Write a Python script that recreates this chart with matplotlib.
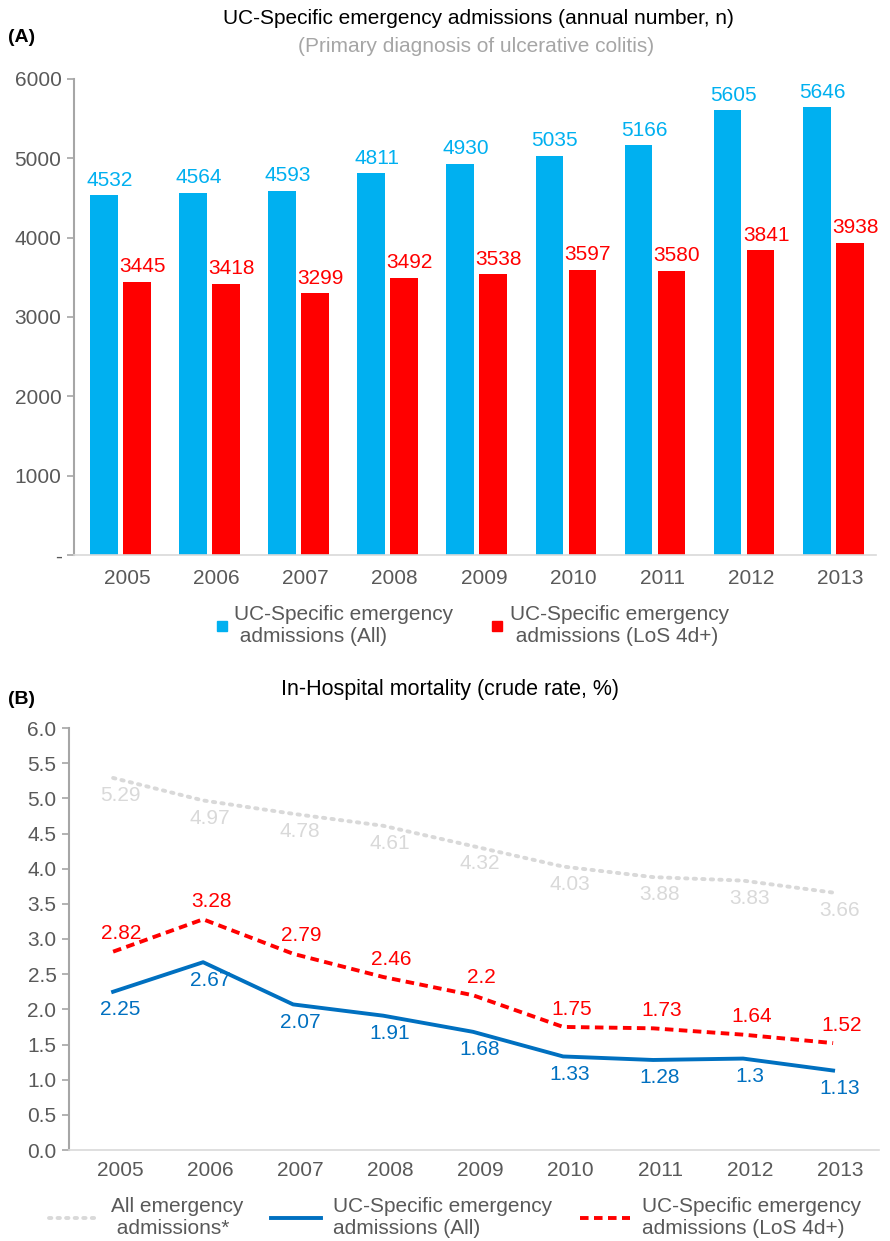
import matplotlib
matplotlib.use("Agg")
import matplotlib.pyplot as plt
from matplotlib.lines import Line2D
import numpy as np

REG = 'Liberation Sans'
plt.rcParams['font.family'] = [REG, 'DejaVu Sans']

# ---------------- data ----------------
years = ['2005', '2006', '2007', '2008', '2009', '2010', '2011', '2012', '2013']
adm_all = [4532, 4564, 4593, 4811, 4930, 5035, 5166, 5605, 5646]
adm_los = [3445, 3418, 3299, 3492, 3538, 3597, 3580, 3841, 3938]

mort_all_emerg = [5.29, 4.97, 4.78, 4.61, 4.32, 4.03, 3.88, 3.83, 3.66]
mort_uc_all = [2.25, 2.67, 2.07, 1.91, 1.68, 1.33, 1.28, 1.3, 1.13]
mort_uc_los = [2.82, 3.28, 2.79, 2.46, 2.2, 1.75, 1.73, 1.64, 1.52]

yticks_a = [0, 1000, 2000, 3000, 4000, 5000, 6000]
yticklabels_a = ['-', '1000', '2000', '3000', '4000', '5000', '6000']
yticks_b = [0.0, 0.5, 1.0, 1.5, 2.0, 2.5, 3.0, 3.5, 4.0, 4.5, 5.0, 5.5, 6.0]

C_BLUE_BAR = '#00B0F0'
C_RED = '#FF0000'
C_BLUE_LINE = '#0070C0'
C_GRAY = '#D9D9D9'
C_TICK = '#595959'
C_SPINE = '#A6A6A6'

FS_TICK = 15
FS_LAB = 15
FS_TITLE = 15
FS_LEG = 15

fig = plt.figure(figsize=(8.9, 12.41), dpi=100)

# ---------------- panel A ----------------
axA = fig.add_axes([74/890, 1-555/1241, 802/890, 476/1241])
x = np.arange(len(years))
w = 0.31
off = 0.185
axA.bar(x - off, adm_all, w, color=C_BLUE_BAR)
axA.bar(x + off, adm_los, w, color=C_RED)
for xi, v in zip(x - off, adm_all):
    axA.annotate(str(v), (xi, v), xytext=(4, 4), textcoords='offset points',
                 ha='center', va='bottom', fontsize=FS_LAB, color=C_BLUE_BAR)
for xi, v in zip(x + off, adm_los):
    axA.annotate(str(v), (xi, v), xytext=(4, 4), textcoords='offset points',
                 ha='center', va='bottom', fontsize=FS_LAB, color=C_RED)
axA.set_xlim(-0.52, 8.48)
axA.set_ylim(0, 6000)
axA.set_yticks(yticks_a)
axA.set_yticklabels(yticklabels_a)
axA.set_xticks(x + 0.08)
axA.set_xticklabels(years)
for s in ['top', 'right']:
    axA.spines[s].set_visible(False)
axA.spines['left'].set_color(C_SPINE)
axA.spines['left'].set_linewidth(1.5)
axA.spines['bottom'].set_color(C_GRAY)
axA.spines['bottom'].set_linewidth(1.2)
axA.tick_params(axis='y', length=5, color=C_SPINE, width=1.2, labelcolor=C_TICK,
                labelsize=FS_TICK, pad=4)
axA.tick_params(axis='x', length=0, labelcolor=C_TICK, labelsize=FS_TICK, pad=10)

fig.text(478/890, 1-19/1241, 'UC-Specific emergency admissions (annual number, n)',
         ha='center', va='center', fontsize=FS_TITLE, color='black')
fig.text(476/890, 1-47/1241, '(Primary diagnosis of ulcerative colitis)',
         ha='center', va='center', fontsize=FS_TITLE, color='#A6A6A6')
fig.text(8/890, 1-37/1241, '(A)', ha='left', va='center', fontsize=14,
         fontweight='bold')

hA = [Line2D([], [], ls='none', marker='s', markersize=7, color=C_BLUE_BAR),
      Line2D([], [], ls='none', marker='s', markersize=7, color=C_RED)]
legA = fig.legend(hA, ['UC-Specific emergency\n admissions (All)',
                       'UC-Specific emergency\n admissions (LoS 4d+)'],
                  loc='center', bbox_to_anchor=(472/890, 1-626/1241), ncol=2,
                  frameon=False, handlelength=0.6, handletextpad=0.3,
                  columnspacing=1.8, labelspacing=0.2,
                  prop={'size': FS_LEG})
for t in legA.get_texts():
    t.set_color(C_TICK)

# ---------------- panel B ----------------
axB = fig.add_axes([69/890, 1-1150/1241, 810/890, 422/1241])
xb = np.arange(len(years))
axB.plot(xb, mort_all_emerg, color=C_GRAY, lw=2.8, ls=(0, (0.6, 1.6)),
         dash_capstyle='round')
axB.plot(xb, mort_uc_all, color=C_BLUE_LINE, lw=2.8)
axB.plot(xb, mort_uc_los, color=C_RED, lw=2.8, ls=(0, (2.2, 1.4)))
for xi, v in zip(xb, mort_all_emerg):
    axB.annotate(f'{v:g}', (xi, v), xytext=(5, -6), textcoords='offset points',
                 ha='center', va='top', fontsize=FS_LAB, color=C_GRAY)
for xi, v in zip(xb, mort_uc_all):
    axB.annotate(f'{v:g}', (xi, v), xytext=(5, -6), textcoords='offset points',
                 ha='center', va='top', fontsize=FS_LAB, color=C_BLUE_LINE)
for xi, v in zip(xb, mort_uc_los):
    axB.annotate(f'{v:g}', (xi, v), xytext=(6, 6), textcoords='offset points',
                 ha='center', va='bottom', fontsize=FS_LAB, color=C_RED)
axB.set_xlim(-0.49, 8.51)
axB.set_ylim(0, 6)
axB.set_yticks(yticks_b)
axB.set_yticklabels([f'{t:.1f}' for t in yticks_b])
axB.set_xticks(xb + 0.08)
axB.set_xticklabels(years)
for s in ['top', 'right']:
    axB.spines[s].set_visible(False)
axB.spines['left'].set_color(C_SPINE)
axB.spines['left'].set_linewidth(1.5)
axB.spines['bottom'].set_color(C_GRAY)
axB.spines['bottom'].set_linewidth(1.2)
axB.tick_params(axis='y', length=5, color=C_SPINE, width=1.2, labelcolor=C_TICK,
                labelsize=FS_TICK, pad=4)
axB.tick_params(axis='x', length=0, labelcolor=C_TICK, labelsize=FS_TICK, pad=8)

fig.text(450/890, 1-690/1241, 'In-Hospital mortality (crude rate, %)',
         ha='center', va='center', fontsize=15.5, color='black')
fig.text(8/890, 1-700/1241, '(B)', ha='left', va='center', fontsize=14,
         fontweight='bold')

hB = [Line2D([], [], color=C_GRAY, lw=2.8, ls=(0, (0.6, 1.6)), dash_capstyle='round'),
      Line2D([], [], color=C_BLUE_LINE, lw=2.8),
      Line2D([], [], color=C_RED, lw=2.8, ls=(0, (2.2, 1.4)))]
legB = fig.legend(hB, ['All emergency\n admissions*',
                       'UC-Specific emergency\nadmissions (All)',
                       'UC-Specific emergency\nadmissions (LoS 4d+)'],
                  loc='center', bbox_to_anchor=(455/890, 1-1218/1241), ncol=3,
                  frameon=False, handlelength=2.4, handletextpad=0.6,
                  columnspacing=1.3, labelspacing=0.2,
                  prop={'size': FS_LEG})
for t in legB.get_texts():
    t.set_color(C_TICK)

fig.savefig('out.png', dpi=100)
